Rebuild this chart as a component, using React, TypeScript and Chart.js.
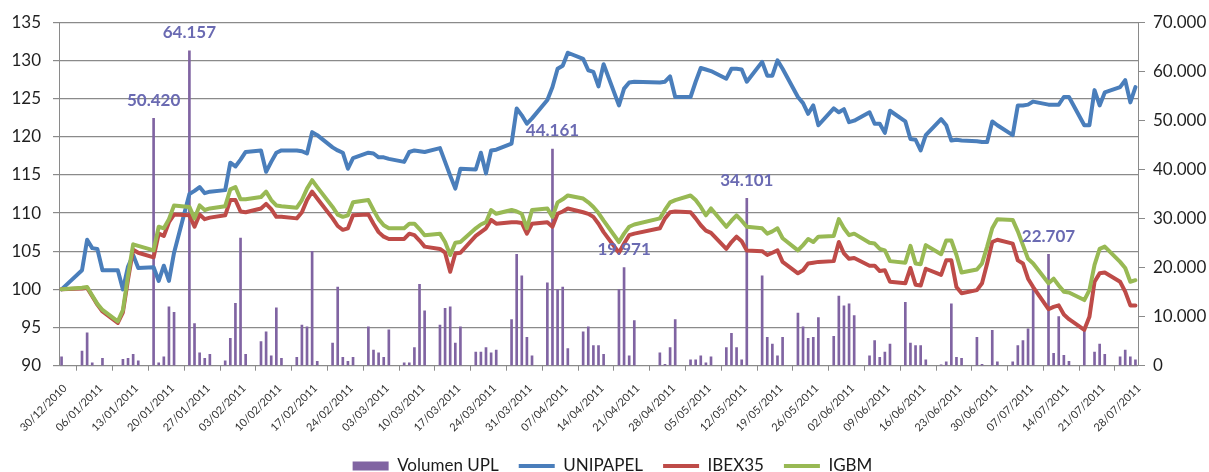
import React, { useEffect, useRef } from 'react';
import { Chart, registerables } from 'chart.js';

Chart.register(...registerables);

// Weekly tick labels of the date axis
const weekTicks = [
  '30/12/2010', '06/01/2011', '13/01/2011', '20/01/2011', '27/01/2011', '03/02/2011', '10/02/2011',
  '17/02/2011', '24/02/2011', '03/03/2011', '10/03/2011', '17/03/2011', '24/03/2011', '31/03/2011',
  '07/04/2011', '14/04/2011', '21/04/2011', '28/04/2011', '05/05/2011', '12/05/2011', '19/05/2011',
  '26/05/2011', '02/06/2011', '09/06/2011', '16/06/2011', '23/06/2011', '30/06/2011', '07/07/2011',
  '14/07/2011', '21/07/2011', '28/07/2011',
];

// Trading sessions of the three index lines
const lineDates = [
  '30/12/2010', '03/01/2011', '04/01/2011', '05/01/2011', '06/01/2011', '07/01/2011', '10/01/2011', '11/01/2011',
  '12/01/2011', '13/01/2011', '14/01/2011', '17/01/2011', '18/01/2011', '19/01/2011', '20/01/2011', '21/01/2011',
  '24/01/2011', '25/01/2011', '26/01/2011', '27/01/2011', '28/01/2011', '31/01/2011',
  '01/02/2011', '02/02/2011', '03/02/2011', '04/02/2011', '07/02/2011', '08/02/2011', '09/02/2011', '10/02/2011',
  '11/02/2011', '14/02/2011', '15/02/2011', '16/02/2011', '17/02/2011', '18/02/2011', '21/02/2011', '22/02/2011',
  '23/02/2011', '24/02/2011', '25/02/2011', '28/02/2011',
  '01/03/2011', '02/03/2011', '03/03/2011', '04/03/2011', '07/03/2011', '08/03/2011', '09/03/2011', '10/03/2011',
  '11/03/2011', '14/03/2011', '15/03/2011', '16/03/2011', '17/03/2011', '18/03/2011', '21/03/2011', '22/03/2011',
  '23/03/2011', '24/03/2011', '25/03/2011', '28/03/2011', '29/03/2011', '30/03/2011', '31/03/2011',
  '01/04/2011', '04/04/2011', '05/04/2011', '06/04/2011', '07/04/2011', '08/04/2011', '11/04/2011', '12/04/2011',
  '13/04/2011', '14/04/2011', '15/04/2011', '18/04/2011', '19/04/2011', '20/04/2011', '21/04/2011', '26/04/2011',
  '27/04/2011', '28/04/2011', '29/04/2011',
  '02/05/2011', '03/05/2011', '04/05/2011', '05/05/2011', '06/05/2011', '09/05/2011', '10/05/2011', '11/05/2011',
  '12/05/2011', '13/05/2011', '16/05/2011', '17/05/2011', '18/05/2011', '19/05/2011', '20/05/2011', '23/05/2011',
  '24/05/2011', '25/05/2011', '26/05/2011', '27/05/2011', '30/05/2011', '31/05/2011',
  '01/06/2011', '02/06/2011', '03/06/2011', '06/06/2011', '07/06/2011', '08/06/2011', '09/06/2011', '10/06/2011',
  '13/06/2011', '14/06/2011', '15/06/2011', '16/06/2011', '17/06/2011', '20/06/2011', '21/06/2011', '22/06/2011',
  '23/06/2011', '24/06/2011', '27/06/2011', '28/06/2011', '29/06/2011', '30/06/2011',
  '01/07/2011', '04/07/2011', '05/07/2011', '06/07/2011', '07/07/2011', '08/07/2011', '11/07/2011', '12/07/2011',
  '13/07/2011', '14/07/2011', '15/07/2011', '18/07/2011', '19/07/2011', '20/07/2011', '21/07/2011', '22/07/2011',
  '25/07/2011', '26/07/2011', '27/07/2011', '28/07/2011',
];

const unipapel = [
  100, 102.5, 106.5, 105.4, 105.3, 102.5, 102.5, 100.0, 103.0, 104.5, 102.8, 102.9, 101.1, 103.1, 101.1, 104.8,
  112.5, 112.9, 113.4, 112.6, 112.8, 113.0,
  116.6, 116.1, 117.0, 118.0, 118.2, 115.4, 116.7, 117.9, 118.2, 118.2, 118.1, 117.8, 120.6, 120.2, 118.6, 118.2,
  117.9, 115.8, 117.2, 117.9,
  117.8, 117.3, 117.3, 117.1, 116.7, 118.0, 118.2, 118.1, 118.0, 118.5, 116.7, 114.9, 113.2, 115.8, 115.7, 117.9,
  115.2, 118.2, 118.3, 119.1, 123.7, 122.8, 121.7,
  122.4, 124.8, 126.5, 128.9, 129.3, 131.0, 130.2, 128.7, 128.5, 126.6, 129.5, 124.1, 126.3, 127.1, 127.2, 127.1,
  127.2, 127.9, 125.2,
  125.2, 127.2, 129.0, 128.8, 128.6, 127.6, 128.9, 128.9, 128.8, 127.2, 129.8, 128.0, 128.0, 130.0, 128.9, 125.2,
  124.4, 123.0, 124.1, 121.5, 123.7, 123.2,
  123.6, 121.9, 122.1, 123.2, 121.7, 121.7, 120.5, 123.4, 122.0, 119.7, 119.6, 118.2, 120.2, 122.3, 121.5, 119.5,
  119.6, 119.5, 119.4, 119.3, 119.3, 122.0,
  121.5, 120.2, 124.1, 124.1, 124.2, 124.6, 124.2, 124.2, 124.2, 125.2, 125.2, 121.5, 121.5, 126.1, 124.1, 125.8,
  126.5, 127.4, 124.5, 126.5,
];

const ibex35 = [
  100, 100.1, 100.2, 99.1, 98.0, 97.1, 95.6, 97.0, 101.3, 105.2, 104.8, 104.2, 107.3, 107.0, 108.8, 109.8,
  109.7, 108.2, 109.8, 109.2, 109.4, 109.7,
  111.7, 111.7, 110.2, 110.1, 110.6, 111.2, 110.5, 109.5, 109.5, 109.3, 110.1, 111.7, 112.8, 111.9, 109.3, 108.3,
  107.8, 108.0, 109.7, 109.8,
  108.6, 107.5, 106.9, 106.6, 106.6, 107.3, 107.1, 106.4, 105.6, 105.3, 104.8, 102.3, 104.7, 104.8, 107.0, 107.5,
  108.0, 109.1, 108.6, 108.8, 108.8, 108.7, 107.3,
  108.6, 108.8, 108.2, 109.9, 110.2, 110.6, 110.1, 109.9, 109.5, 108.6, 107.5, 104.8, 106.0, 107.1, 107.3, 108.0,
  109.3, 110.1, 110.2,
  110.1, 109.3, 108.4, 107.7, 107.4, 105.3, 106.2, 106.9, 106.3, 105.1, 105.0, 104.5, 104.8, 105.1, 103.6, 102.1,
  102.5, 103.4, 103.5, 103.6, 103.7, 106.2,
  104.7, 104.0, 104.1, 103.1, 103.1, 102.4, 102.5, 101.0, 100.8, 102.8, 100.6, 100.5, 102.7, 101.9, 103.8, 103.8,
  100.3, 99.5, 99.9, 100.8, 103.4, 106.2,
  106.5, 106.0, 103.8, 103.4, 101.4, 100.3, 97.4, 97.7, 97.9, 96.7, 96.1, 94.7, 96.4, 101.0, 102.1, 102.2,
  101.0, 99.7, 97.9, 97.9,
];

const igbm = [
  100, 100.2, 100.3, 99.2, 98.1, 97.3, 95.8, 97.3, 101.8, 105.9, 105.7, 105.1, 108.2, 108.0, 109.2, 111.0,
  110.8, 109.3, 111.0, 110.4, 110.6, 110.9,
  113.1, 113.4, 111.8, 111.8, 112.1, 112.8, 111.7, 111.0, 110.9, 110.7, 111.7, 113.2, 114.3, 113.4, 110.8, 109.8,
  109.5, 109.7, 111.4, 111.7,
  110.4, 109.2, 108.4, 108.0, 108.0, 108.6, 108.6, 107.9, 107.1, 107.3, 106.2, 104.5, 106.1, 106.2, 108.0, 108.5,
  108.8, 110.4, 109.9, 110.4, 110.2, 109.9, 108.0,
  110.4, 110.6, 109.5, 111.4, 111.8, 112.3, 111.9, 111.4, 110.8, 110.0, 109.0, 106.2, 107.3, 108.2, 108.5, 109.3,
  110.4, 111.4, 111.7,
  112.3, 111.7, 110.8, 109.7, 110.6, 108.2, 109.0, 109.7, 109.0, 108.2, 108.0, 107.3, 107.6, 108.0, 106.7, 105.1,
  105.8, 106.6, 106.2, 106.9, 107.0, 109.2,
  108.0, 107.1, 107.3, 106.1, 106.0, 105.3, 105.1, 103.7, 103.5, 105.7, 103.4, 103.3, 105.8, 104.6, 106.4, 106.4,
  104.5, 102.2, 102.6, 103.4, 105.6, 108.0,
  109.2, 109.1, 107.6, 105.8, 104.0, 103.4, 100.8, 101.4, 100.5, 99.7, 99.6, 98.6, 99.9, 103.2, 105.3, 105.6,
  103.6, 102.8, 101.0, 101.2,
];

// Daily traded volume of UPL (right axis)
const volumeDates = [
  '30/12/2010', '03/01/2011', '04/01/2011', '05/01/2011', '07/01/2011', '11/01/2011', '12/01/2011', '13/01/2011',
  '14/01/2011', '17/01/2011', '18/01/2011', '19/01/2011', '20/01/2011', '21/01/2011', '24/01/2011', '25/01/2011',
  '26/01/2011', '27/01/2011', '28/01/2011', '31/01/2011',
  '01/02/2011', '02/02/2011', '03/02/2011', '04/02/2011', '07/02/2011', '08/02/2011', '09/02/2011', '10/02/2011',
  '11/02/2011', '14/02/2011', '15/02/2011', '16/02/2011', '17/02/2011', '18/02/2011', '21/02/2011', '22/02/2011',
  '23/02/2011', '24/02/2011', '25/02/2011', '28/02/2011',
  '01/03/2011', '02/03/2011', '03/03/2011', '04/03/2011', '07/03/2011', '08/03/2011', '09/03/2011', '10/03/2011',
  '11/03/2011', '14/03/2011', '15/03/2011', '16/03/2011', '17/03/2011', '18/03/2011', '21/03/2011', '22/03/2011',
  '23/03/2011', '24/03/2011', '25/03/2011', '28/03/2011', '29/03/2011', '30/03/2011', '31/03/2011',
  '01/04/2011', '04/04/2011', '05/04/2011', '06/04/2011', '07/04/2011', '08/04/2011', '11/04/2011', '12/04/2011',
  '13/04/2011', '14/04/2011', '15/04/2011', '18/04/2011', '19/04/2011', '20/04/2011', '21/04/2011', '26/04/2011',
  '27/04/2011', '28/04/2011', '29/04/2011',
  '02/05/2011', '03/05/2011', '04/05/2011', '05/05/2011', '06/05/2011', '09/05/2011', '10/05/2011', '11/05/2011',
  '12/05/2011', '13/05/2011', '16/05/2011', '17/05/2011', '18/05/2011', '19/05/2011', '20/05/2011', '23/05/2011',
  '24/05/2011', '25/05/2011', '26/05/2011', '27/05/2011', '30/05/2011', '31/05/2011',
  '01/06/2011', '02/06/2011', '03/06/2011', '06/06/2011', '07/06/2011', '08/06/2011', '09/06/2011', '10/06/2011',
  '13/06/2011', '14/06/2011', '15/06/2011', '16/06/2011', '17/06/2011', '20/06/2011', '21/06/2011', '22/06/2011',
  '23/06/2011', '24/06/2011', '27/06/2011', '28/06/2011', '30/06/2011',
  '01/07/2011', '04/07/2011', '05/07/2011', '06/07/2011', '07/07/2011', '08/07/2011', '11/07/2011', '12/07/2011',
  '13/07/2011', '14/07/2011', '15/07/2011', '18/07/2011', '20/07/2011', '21/07/2011', '22/07/2011', '25/07/2011',
  '26/07/2011', '27/07/2011', '28/07/2011',
];

const volumes = [
  1800, 3000, 6700, 600, 1500, 1300, 1500, 2300,
  1000, 50420, 600, 1800, 12000, 10900, 64157, 8600,
  2600, 1500, 2300, 1000,
  5600, 12700, 26000, 2300, 4900, 6900, 2000, 11800,
  1500, 1700, 8300, 7900, 23300, 900, 4600, 16000,
  1700, 900, 1700, 7900,
  3200, 2600, 1700, 7300, 600, 600, 3700, 16600,
  11200, 8300, 11700, 12000, 4600, 7900, 2800, 2800,
  3700, 2600, 3200, 9400, 22700, 18300, 5800,
  2000, 16900, 44161, 15500, 16000, 3500, 6900, 7900,
  4100, 4100, 2300, 15500, 19971, 2000, 9200, 2600,
  300, 3700, 9400,
  1200, 1200, 2000, 600, 1800, 3700, 6600, 3700,
  1200, 34101, 18300, 5800, 4400, 2000, 5800, 10700,
  7900, 5600, 5800, 9800, 6000, 14200,
  12200, 12600, 10200, 2000, 5100, 1700, 2800, 4400,
  12900, 4600, 4100, 4100, 1200, 200, 800, 12600,
  1700, 1500, 5800, 300, 7200,
  800, 800, 4100, 5100, 7500, 16000, 22707, 2500,
  10000, 2100, 900, 7000, 2800, 4400, 2300, 1800,
  3200, 1800, 1200,
];

// Sessions whose volume is annotated above the bar
const labeledDates = ['17/01/2011', '24/01/2011', '05/04/2011', '19/04/2011', '13/05/2011', '11/07/2011'];

const BASE = Date.UTC(2010, 11, 30);
function dayOf(s: string): number {
  const [d, m, y] = s.split('/').map(Number);
  return Math.round((Date.UTC(y, m - 1, d) - BASE) / 86400000);
}
// each session sits in the middle of its day slot on the date axis
const slot = (s: string) => dayOf(s) + 0.5;
const fmtThousands = (v: number) => String(Math.round(v)).replace(/\B(?=(\d{3})+(?!\d))/g, '.');

const GRID = '#8a8a8a';
const FONT = 'Lato';
const LINE_W = 4;

export default function App() {
  const ref = useRef<HTMLCanvasElement>(null);

  useEffect(() => {
    const canvas = ref.current;
    if (!canvas) return;

    const barLabels = {
      id: 'barLabels',
      afterDatasetsDraw(chart: any) {
        const meta = chart.getDatasetMeta(0);
        const ctx = chart.ctx;
        ctx.save();
        ctx.font = `bold 17px ${FONT}`;
        ctx.fillStyle = '#6a6ab2';
        ctx.textAlign = 'center';
        ctx.textBaseline = 'middle';
        labeledDates.forEach((d) => {
          const i = volumeDates.indexOf(d);
          const el = meta.data[i];
          if (el) ctx.fillText(fmtThousands(volumes[i]), el.x, el.y - 18);
        });
        ctx.restore();
      },
    };

    const legendShift = {
      id: 'legendShift',
      afterLayout(chart: any) {
        if (chart.legend) {
          chart.legend.left += 8;
          chart.legend.right += 8;
        }
      },
    };

    const lineBase = {
      type: 'line' as const,
      yAxisID: 'y',
      xAxisID: 'x',
      borderWidth: LINE_W,
      pointRadius: 0,
      pointHoverRadius: 0,
      tension: 0,
      borderJoinStyle: 'round' as const,
      borderCapStyle: 'round' as const,
      fill: false,
    };

    const chart = new Chart(canvas, {
      type: 'line',
      data: {
        datasets: [
          {
            type: 'bar',
            label: 'Volumen UPL',
            data: volumeDates.map((d, i) => ({ x: slot(d), y: volumes[i] })),
            yAxisID: 'yR',
            xAxisID: 'x',
            backgroundColor: '#8064A2',
            borderWidth: 0,
            barThickness: 2,
            order: 4,
          } as any,
          {
            ...lineBase,
            label: 'UNIPAPEL',
            data: lineDates.map((d, i) => ({ x: slot(d), y: unipapel[i] })),
            borderColor: '#4A7EBB',
            backgroundColor: '#4A7EBB',
            order: 3,
          },
          {
            ...lineBase,
            label: 'IBEX35',
            data: lineDates.map((d, i) => ({ x: slot(d), y: ibex35[i] })),
            borderColor: '#BE4B48',
            backgroundColor: '#BE4B48',
            order: 2,
          },
          {
            ...lineBase,
            label: 'IGBM',
            data: lineDates.map((d, i) => ({ x: slot(d), y: igbm[i] })),
            borderColor: '#98B954',
            backgroundColor: '#98B954',
            order: 1,
          },
        ],
      },
      options: {
        animation: false,
        responsive: false,
        devicePixelRatio: 1,
        layout: { padding: { top: 21.7, bottom: -12.5, left: 0, right: 0 } },
        plugins: {
          tooltip: { enabled: false },
          legend: {
            position: 'bottom',
            labels: {
              font: { family: FONT, size: 17 },
              color: '#1a1a1a',
              usePointStyle: true,
              pointStyleWidth: 36,
              boxWidth: 36,
              boxHeight: 9,
              padding: 20,
              sort: (a: any, b: any) => a.datasetIndex - b.datasetIndex,
              generateLabels: (ch: any) =>
                (Chart.defaults.plugins.legend.labels.generateLabels as any)(ch).map((it: any) => ({
                  ...it,
                  pointStyle: it.datasetIndex === 0 ? 'rect' : 'line',
                  lineWidth: it.datasetIndex === 0 ? 0 : LINE_W,
                })),
            },
          },
        },
        scales: {
          x: {
            type: 'linear',
            min: 0,
            max: 211,
            offset: false,
            afterBuildTicks: (s: any) => {
              s.ticks = weekTicks.map((t) => ({ value: dayOf(t) }));
            },
            afterFit: (s: any) => {
              s.height = 71.8;
            },
            ticks: {
              autoSkip: false,
              minRotation: 45,
              maxRotation: 45,
              padding: 11,
              labelOffset: 6,
              font: { family: FONT, size: 11 },
              color: '#333333',
              callback: (_v: any, i: number) => weekTicks[i],
            },
            grid: { drawOnChartArea: false, drawTicks: true, tickLength: 5, color: GRID },
            border: { color: GRID },
          },
          y: {
            position: 'left',
            min: 90,
            max: 135,
            afterFit: (s: any) => {
              s.width = 59;
            },
            ticks: {
              stepSize: 5,
              padding: 12,
              font: { family: FONT, size: 17 },
              color: '#1f1f1f',
            },
            grid: { color: GRID, lineWidth: 1.2, tickLength: 6 },
            border: { color: GRID },
          },
          yR: {
            position: 'right',
            min: 0,
            max: 70000,
            afterFit: (s: any) => {
              s.width = 71;
            },
            ticks: {
              stepSize: 10000,
              padding: 8,
              font: { family: FONT, size: 17 },
              color: '#1f1f1f',
              callback: (v: any) => fmtThousands(Number(v)),
            },
            grid: { drawOnChartArea: false, tickLength: 7, color: GRID },
            border: { color: GRID },
          },
        },
      },
      plugins: [barLabels, legendShift],
    } as any);

    return () => chart.destroy();
  }, []);

  return (
    <div style={{ position: 'absolute', left: 0, top: 0, width: 1209, height: 472, background: '#ffffff' }}>
      <canvas ref={ref} width={1209} height={472} style={{ display: 'block' }} />
    </div>
  );
}
